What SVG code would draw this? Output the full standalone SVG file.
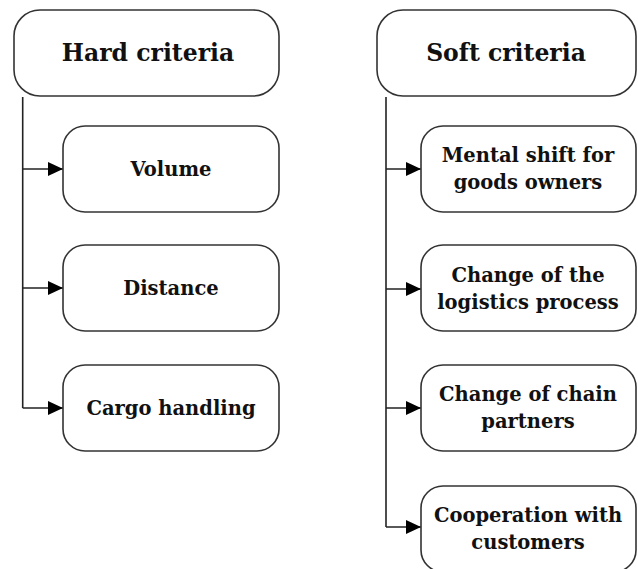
<svg xmlns="http://www.w3.org/2000/svg" width="638" height="569" viewBox="0 0 638 569">
<style>
.box{fill:#fff;stroke:#333;stroke-width:1.6}
.t{font-family:"DejaVu Serif","Liberation Serif",serif;font-weight:bold;fill:#111;text-anchor:middle}
.h{font-size:23.5px}
.c{font-size:19.5px}
.ln{fill:none;stroke:#222;stroke-width:1.6}
</style>
<defs>
<marker id="ah" markerWidth="15" markerHeight="14" refX="15" refY="7" orient="auto" markerUnits="userSpaceOnUse" viewBox="0 0 15 14">
<path d="M0,0 L15,7 L0,14 z" fill="#000"/>
</marker>
</defs>
<rect width="638" height="569" fill="#fff"/>
<g id="connectors">
<path class="ln" d="M22.7,97 V408"/>
<path class="ln" d="M22.7,169 H63" marker-end="url(#ah)"/>
<path class="ln" d="M22.7,288 H63" marker-end="url(#ah)"/>
<path class="ln" d="M22.7,408 H63" marker-end="url(#ah)"/>
<path class="ln" d="M386,97 V527"/>
<path class="ln" d="M386,169 H421" marker-end="url(#ah)"/>
<path class="ln" d="M386,289 H421" marker-end="url(#ah)"/>
<path class="ln" d="M386,408 H421" marker-end="url(#ah)"/>
<path class="ln" d="M386,527 H421" marker-end="url(#ah)"/>
</g>
<g id="hard">
<rect class="box" x="14" y="10" width="265" height="86" rx="26"/>
<text class="t h" x="148" y="61">Hard criteria</text>
</g>
<g id="volume">
<rect class="box" x="63" y="126" width="216" height="86" rx="22"/>
<text class="t c" x="171" y="176">Volume</text>
</g>
<g id="distance">
<rect class="box" x="63" y="245" width="216" height="86" rx="22"/>
<text class="t c" x="171" y="295">Distance</text>
</g>
<g id="cargo">
<rect class="box" x="63" y="365" width="216" height="86" rx="22"/>
<text class="t c" x="171" y="415">Cargo handling</text>
</g>
<g id="soft">
<rect class="box" x="377" y="10" width="259" height="86" rx="26"/>
<text class="t h" x="506" y="61">Soft criteria</text>
</g>
<g id="mental">
<rect class="box" x="421" y="126" width="215" height="86" rx="22"/>
<text class="t c" x="528" y="162">Mental shift for</text>
<text class="t c" x="528" y="189">goods owners</text>
</g>
<g id="logistics">
<rect class="box" x="421" y="245" width="215" height="86" rx="22"/>
<text class="t c" x="528" y="282">Change of the</text>
<text class="t c" x="528" y="309">logistics process</text>
</g>
<g id="chain">
<rect class="box" x="421" y="365" width="215" height="86" rx="22"/>
<text class="t c" x="528" y="401">Change of chain</text>
<text class="t c" x="528" y="428">partners</text>
</g>
<g id="cooperation">
<rect class="box" x="421" y="486" width="215" height="86" rx="22"/>
<text class="t c" x="528" y="522">Cooperation with</text>
<text class="t c" x="528" y="549">customers</text>
</g>
</svg>
